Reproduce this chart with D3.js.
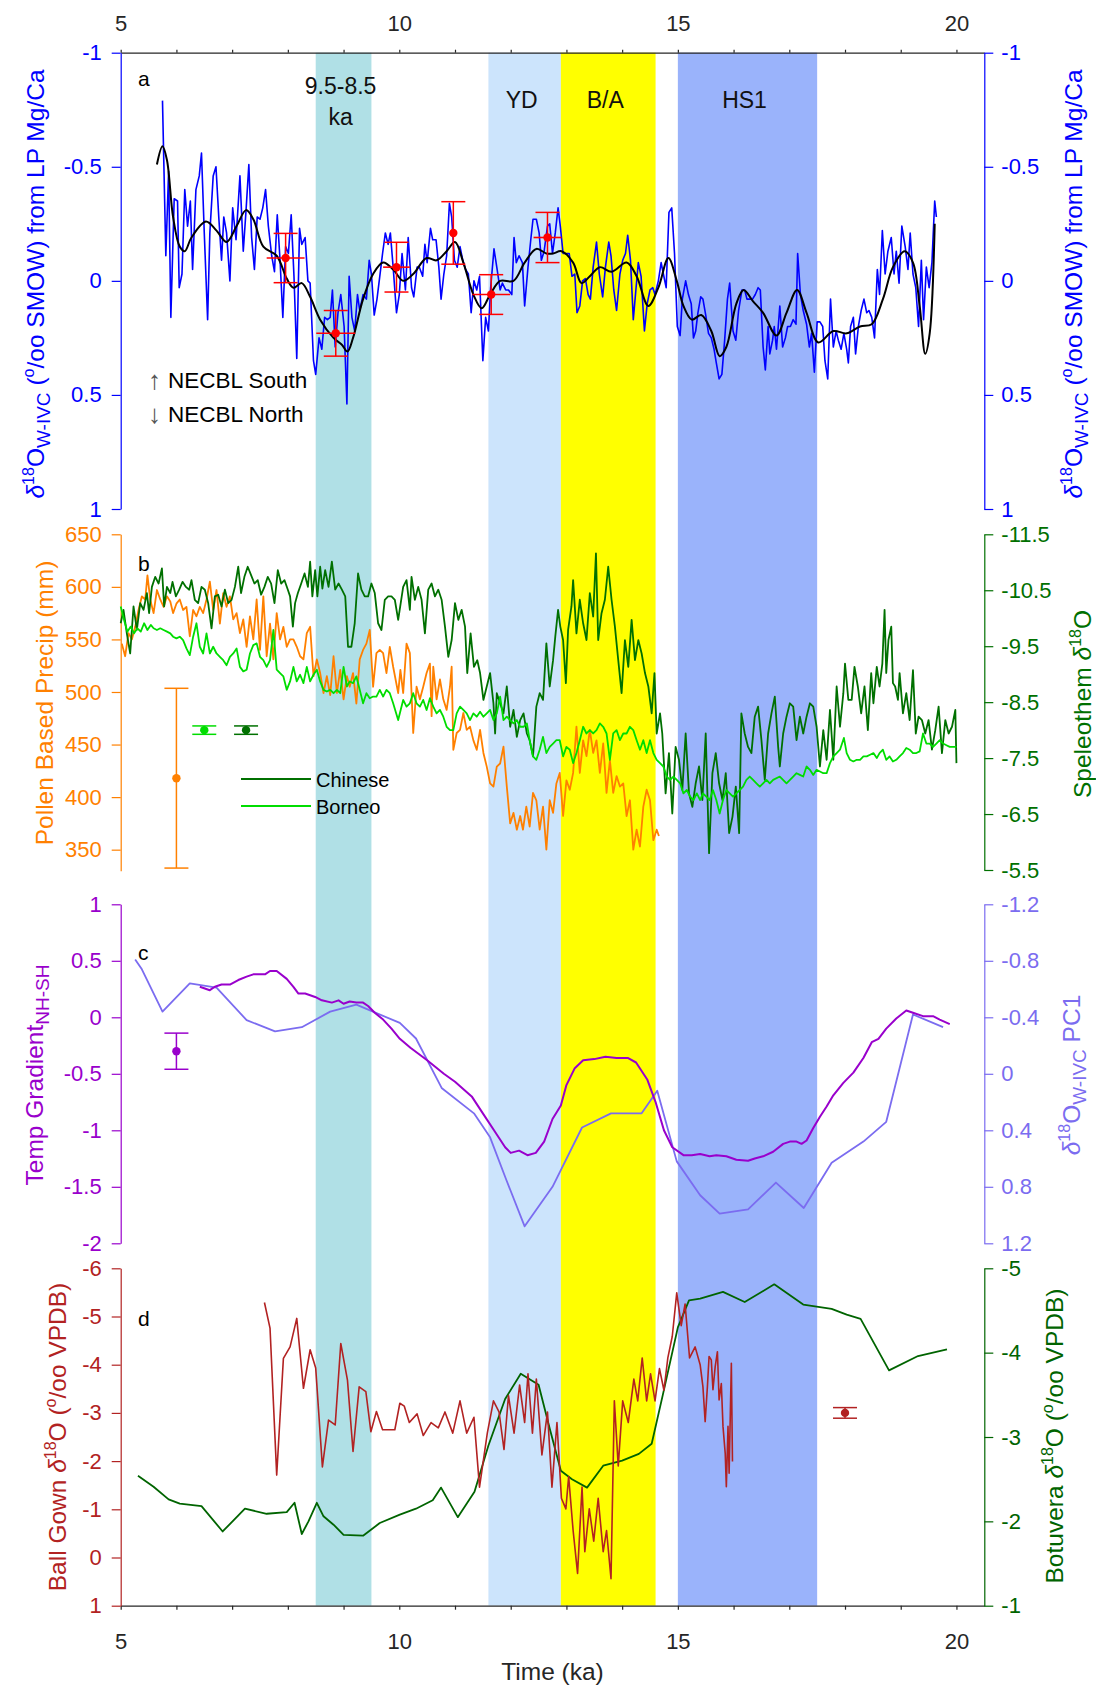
<!DOCTYPE html>
<html>
<head>
<meta charset="utf-8">
<script src="https://cdn.jsdelivr.net/npm/d3@7"></script>
<style>
  body { margin: 0; background: #fff; }
  svg text { font-family: "Liberation Sans", Arial, sans-serif; }
</style>
</head>
<body>
<svg id="chart" width="1096" height="1690"></svg>
<script>
// ---- data (time in ka) ----
const bands = [
  { from: 8.5, to: 9.5, color: '#b0e0e6' },
  { from: 11.6, to: 12.9, color: '#cce4fc' },
  { from: 12.9, to: 14.6, color: '#ffff00' },
  { from: 15.0, to: 17.5, color: '#9ab3fb' }
];

// panel a: d18O W-IVC (blue raw, black smoothed, red dated points)
const wivcRaw = [
  [5.75,-0.79],[5.81,-0.11],[5.86,-0.48],[5.90,0.16],[5.96,-0.36],[6.02,-0.35],[6.05,0.03],[6.10,-0.03],[6.15,-0.40],[6.20,-0.24],
  [6.25,-0.35],[6.29,-0.05],[6.35,-0.40],[6.41,-0.46],[6.45,-0.56],[6.50,-0.21],[6.56,0.17],[6.60,-0.21],[6.66,-0.46],[6.71,-0.50],
  [6.76,-0.28],[6.81,-0.09],[6.85,-0.28],[6.90,-0.21],[6.96,0.00],[7.01,-0.32],[7.07,-0.18],[7.14,-0.46],[7.20,-0.13],[7.25,-0.31],
  [7.30,-0.51],[7.35,-0.19],[7.40,-0.05],[7.45,-0.28],[7.50,-0.27],[7.55,-0.32],[7.60,-0.40],[7.65,-0.24],[7.71,-0.11],[7.76,-0.04],
  [7.81,-0.29],[7.86,-0.09],[7.91,0.16],[7.96,-0.15],[8.01,-0.12],[8.06,-0.29],[8.11,-0.02],[8.16,0.34],[8.21,-0.23],[8.25,-0.16],
  [8.31,-0.19],[8.36,0.00],[8.40,0.01],[8.46,0.35],[8.50,0.41],[8.56,0.25],[8.61,0.30],[8.66,0.16],[8.71,0.17],[8.76,0.16],
  [8.80,0.04],[8.85,0.29],[8.90,0.14],[8.95,0.06],[9.01,0.20],[9.06,0.54],[9.10,-0.02],[9.15,0.16],[9.20,0.22],[9.25,0.06],
  [9.29,0.13],[9.35,0.06],[9.41,0.08],[9.46,-0.09],[9.50,-0.03],[9.55,0.15],[9.60,0.08],[9.65,-0.02],[9.70,-0.12],[9.75,-0.21],
  [9.80,-0.16],[9.84,-0.21],[9.89,-0.06],[9.95,0.14],[10.00,0.06],[10.05,-0.12],[10.11,0.04],[10.16,-0.19],[10.22,0.03],[10.26,0.07],
  [10.32,-0.06],[10.36,-0.06],[10.42,-0.02],[10.46,-0.16],[10.50,-0.08],[10.56,-0.23],[10.60,-0.18],[10.66,-0.18],[10.71,-0.06],[10.75,0.08],
  [10.80,-0.03],[10.85,-0.11],[10.90,-0.34],[10.94,-0.28],[10.99,-0.09],[11.04,-0.06],[11.09,-0.15],[11.14,-0.09],[11.19,-0.05],[11.24,-0.03],
  [11.29,0.14],[11.34,0.00],[11.39,0.04],[11.44,-0.02],[11.50,0.35],[11.55,0.16],[11.60,0.22],[11.64,0.03],[11.70,-0.14],[11.75,-0.06],
  [11.81,0.04],[11.85,0.01],[11.91,0.04],[11.96,0.04],[12.02,0.06],[12.06,-0.19],[12.10,-0.08],[12.15,-0.11],[12.21,-0.08],[12.25,0.11],
  [12.31,-0.06],[12.36,-0.18],[12.40,-0.27],[12.46,-0.27],[12.51,-0.21],[12.55,-0.09],[12.60,-0.13],[12.66,-0.24],[12.70,-0.25],[12.75,-0.12],
  [12.80,-0.21],[12.85,-0.32],[12.89,-0.24],[12.94,-0.12],[13.05,-0.12],[13.10,-0.02],[13.15,-0.03],[13.19,0.14],[13.24,0.11],[13.29,0.00],
  [13.34,-0.01],[13.39,0.06],[13.43,0.08],[13.48,-0.06],[13.54,-0.17],[13.59,-0.03],[13.65,0.07],[13.70,-0.06],[13.76,-0.17],[13.80,-0.11],
  [13.85,0.04],[13.90,0.13],[13.96,-0.03],[14.01,-0.09],[14.06,-0.12],[14.10,-0.20],[14.15,-0.09],[14.20,0.17],[14.25,0.03],[14.29,-0.08],
  [14.34,-0.02],[14.40,0.22],[14.45,0.10],[14.50,0.04],[14.55,0.03],[14.59,0.06],[14.65,0.00],[14.70,-0.08],[14.74,-0.03],[14.79,0.03],
  [14.84,-0.30],[14.89,-0.32],[14.94,-0.12],[14.99,0.20],[15.04,0.24],[15.08,0.08],[15.14,0.00],[15.19,0.06],[15.24,0.10],[15.28,0.25],
  [15.32,0.22],[15.36,0.14],[15.41,0.07],[15.45,0.08],[15.50,0.15],[15.55,0.23],[15.60,0.25],[15.65,0.30],[15.69,0.36],[15.74,0.43],
  [15.79,0.41],[15.84,0.26],[15.89,0.08],[15.93,0.01],[15.99,0.22],[16.04,0.26],[16.09,0.13],[16.15,0.04],[16.20,0.04],[16.24,0.08],
  [16.29,0.08],[16.34,0.08],[16.39,0.06],[16.44,0.03],[16.48,0.04],[16.53,0.29],[16.57,0.39],[16.62,0.20],[16.65,0.32],[16.70,0.26],
  [16.73,0.20],[16.77,0.30],[16.83,0.11],[16.88,0.29],[16.93,0.25],[16.97,0.20],[17.02,0.20],[17.07,0.17],[17.12,0.19],[17.15,-0.12],
  [17.20,0.06],[17.25,0.13],[17.31,0.19],[17.36,0.29],[17.40,0.23],[17.45,0.40],[17.50,0.18],[17.55,0.18],[17.60,0.20],[17.64,0.35],
  [17.69,0.43],[17.74,0.08],[17.79,0.29],[17.84,0.22],[17.88,0.26],[17.93,0.30],[17.98,0.23],[18.03,0.30],[18.06,0.36],[18.10,0.20],
  [18.15,0.16],[18.19,0.32],[18.24,0.20],[18.29,0.13],[18.34,0.08],[18.39,0.14],[18.43,0.13],[18.48,0.16],[18.53,0.25],[18.58,-0.05],
  [18.62,0.06],[18.67,-0.22],[18.72,-0.03],[18.77,-0.13],[18.83,-0.19],[18.88,-0.03],[18.92,-0.13],[18.97,0.01],[19.02,-0.24],[19.08,-0.15],
  [19.13,-0.05],[19.17,-0.21],[19.22,-0.03],[19.27,0.03],[19.32,0.20],[19.37,-0.09],[19.41,0.17],[19.46,-0.06],[19.51,0.03],[19.56,-0.08],
  [19.61,-0.35],[19.64,-0.28]
];
const wivcSmooth = [
  [5.65,-0.51],[5.75,-0.59],[5.83,-0.53],[5.94,-0.28],[6.06,-0.15],[6.15,-0.13],[6.27,-0.19],[6.53,-0.26],[6.72,-0.22],[6.90,-0.17],
  [7.08,-0.24],[7.25,-0.31],[7.38,-0.27],[7.56,-0.15],[7.80,-0.11],[7.98,-0.01],[8.10,0.03],[8.25,0.01],[8.40,0.07],[8.58,0.17],
  [8.82,0.25],[8.97,0.28],[9.07,0.31],[9.17,0.25],[9.35,0.08],[9.53,-0.03],[9.71,-0.08],[9.89,-0.05],[10.07,0.00],[10.25,-0.03],
  [10.49,-0.10],[10.67,-0.09],[10.85,-0.13],[11.00,-0.17],[11.15,-0.08],[11.33,0.06],[11.48,0.12],[11.63,0.06],[11.81,0.00],[12.05,0.00],
  [12.25,-0.08],[12.46,-0.14],[12.64,-0.12],[12.76,-0.12],[12.91,-0.13],[13.12,-0.08],[13.27,0.01],[13.42,-0.02],[13.60,-0.06],[13.81,-0.04],
  [14.08,-0.08],[14.26,-0.02],[14.47,0.11],[14.65,0.03],[14.83,-0.10],[14.98,0.00],[15.10,0.11],[15.25,0.17],[15.42,0.15],[15.60,0.22],
  [15.75,0.33],[15.87,0.29],[16.05,0.10],[16.18,0.04],[16.35,0.09],[16.53,0.14],[16.77,0.24],[16.95,0.14],[17.14,0.04],[17.31,0.14],
  [17.52,0.27],[17.79,0.22],[18.03,0.23],[18.27,0.20],[18.48,0.19],[18.68,0.08],[18.86,-0.06],[19.07,-0.13],[19.22,-0.08],[19.34,0.11],
  [19.44,0.32],[19.52,0.23],[19.61,-0.25]
];
// [time, value, value error, time error]
const wivcDated = [
  [7.96,-0.10,0.108,0.34],[8.86,0.23,0.10,0.35],[9.95,-0.06,0.109,0.24],
  [10.97,-0.21,0.137,0.06],[11.65,0.06,0.087,0.34],[12.66,-0.19,0.11,0.25]
];

// panel b: pollen precipitation (mm) and speleothem d18O
const pollenPrecip = [
  [5.02,546],[5.08,534],[5.14,556],[5.20,550],[5.26,562],[5.32,578],[5.38,591],[5.44,588],[5.48,611],[5.53,588],
  [5.59,575],[5.65,597],[5.71,588],[5.77,581],[5.83,591],[5.89,586],[5.94,575],[6.00,584],[6.06,588],[6.12,578],
  [6.18,581],[6.24,553],[6.30,578],[6.36,572],[6.42,581],[6.48,575],[6.54,588],[6.60,605],[6.66,578],[6.72,597],
  [6.78,565],[6.84,594],[6.90,581],[6.96,591],[7.02,569],[7.08,575],[7.14,556],[7.20,569],[7.26,543],[7.32,572],
  [7.38,550],[7.44,588],[7.50,540],[7.56,591],[7.62,534],[7.68,565],[7.74,531],[7.80,575],[7.86,550],[7.92,562],
  [7.98,543],[8.04,550],[8.10,550],[8.16,543],[8.22,534],[8.28,531],[8.34,556],[8.40,562],[8.46,515],[8.52,531],
  [8.58,518],[8.64,499],[8.70,515],[8.76,497],[8.82,534],[8.88,499],[8.94,521],[9.00,493],[9.06,515],[9.11,505],
  [9.17,518],[9.23,489],[9.29,531],[9.35,540],[9.41,546],[9.47,559],[9.53,505],[9.59,537],[9.65,540],[9.71,537],
  [9.77,518],[9.83,543],[9.89,524],[9.98,499],[10.02,521],[10.07,499],[10.13,546],[10.19,537],[10.25,461],[10.31,505],
  [10.37,493],[10.43,505],[10.49,518],[10.55,527],[10.58,477],[10.61,524],[10.67,493],[10.73,512],[10.79,493],[10.85,483],
  [10.91,505],[10.94,524],[10.97,445],[11.03,461],[11.09,464],[11.15,480],[11.21,464],[11.27,467],[11.33,454],[11.39,445],
  [11.45,464],[11.51,442],[11.57,429],[11.63,413],[11.69,410],[11.75,429],[11.81,432],[11.87,448],[11.93,410],[11.99,375],
  [12.05,385],[12.11,369],[12.17,382],[12.22,369],[12.28,391],[12.34,372],[12.40,404],[12.46,397],[12.52,369],[12.58,391],
  [12.64,350],[12.70,397],[12.76,385],[12.82,413],[12.88,423],[12.94,382],[13.00,416],[13.06,407],[13.12,423],[13.18,467],
  [13.24,423],[13.30,454],[13.36,439],[13.42,464],[13.48,442],[13.54,454],[13.60,423],[13.66,451],[13.72,404],[13.78,435],
  [13.84,404],[13.90,420],[13.96,410],[14.02,413],[14.08,382],[14.14,397],[14.20,350],[14.26,369],[14.32,353],[14.38,391],
  [14.44,407],[14.50,397],[14.56,359],[14.62,369],[14.66,363]
];
const chineseSpeleo = [
  [5.00,-9.91],[5.05,-10.15],[5.11,-9.73],[5.17,-9.37],[5.23,-10.21],[5.29,-9.79],[5.35,-10.27],[5.41,-10.15],[5.47,-10.45],[5.51,-10.09],
  [5.56,-10.56],[5.62,-10.74],[5.68,-10.62],[5.74,-10.89],[5.78,-10.21],[5.83,-10.56],[5.89,-10.45],[5.93,-10.65],[5.99,-10.39],[6.05,-10.51],
  [6.11,-10.65],[6.17,-10.56],[6.23,-10.51],[6.27,-10.68],[6.33,-10.33],[6.39,-10.27],[6.45,-10.56],[6.51,-10.51],[6.57,-10.27],[6.63,-9.82],
  [6.69,-10.39],[6.75,-10.42],[6.81,-10.21],[6.87,-10.51],[6.93,-10.27],[6.99,-10.33],[7.05,-10.56],[7.11,-10.92],[7.16,-10.45],[7.22,-10.74],
  [7.28,-10.92],[7.34,-10.77],[7.40,-10.62],[7.46,-10.68],[7.52,-10.42],[7.58,-10.56],[7.64,-10.74],[7.70,-10.62],[7.76,-10.27],[7.82,-10.86],
  [7.88,-10.62],[7.94,-10.68],[8.00,-10.51],[8.04,-10.39],[8.09,-9.85],[8.13,-10.27],[8.18,-10.45],[8.24,-10.62],[8.30,-10.80],[8.36,-10.56],
  [8.40,-11.01],[8.44,-10.39],[8.49,-10.86],[8.53,-10.39],[8.58,-10.92],[8.62,-10.53],[8.67,-10.86],[8.73,-10.56],[8.79,-11.01],[8.85,-10.51],
  [8.91,-10.62],[8.97,-10.51],[9.03,-10.39],[9.08,-9.49],[9.14,-9.49],[9.20,-9.91],[9.26,-10.80],[9.32,-10.51],[9.38,-10.39],[9.44,-10.39],
  [9.50,-10.62],[9.56,-10.45],[9.62,-9.91],[9.68,-9.79],[9.74,-10.33],[9.80,-10.39],[9.86,-10.39],[9.92,-10.33],[9.98,-9.97],[10.07,-10.56],
  [10.13,-10.68],[10.19,-10.15],[10.22,-10.74],[10.28,-10.33],[10.34,-10.56],[10.40,-10.33],[10.46,-9.73],[10.52,-10.51],[10.58,-10.62],[10.64,-10.39],
  [10.70,-10.51],[10.76,-10.33],[10.82,-9.85],[10.88,-9.31],[10.94,-9.61],[11.00,-10.27],[11.06,-9.97],[11.12,-10.15],[11.18,-9.85],[11.22,-9.02],
  [11.28,-9.73],[11.34,-9.13],[11.40,-9.25],[11.45,-9.02],[11.51,-8.54],[11.57,-8.78],[11.63,-9.02],[11.69,-8.48],[11.72,-7.94],[11.75,-8.66],
  [11.81,-8.48],[11.87,-8.30],[11.93,-8.78],[11.99,-8.06],[12.05,-8.36],[12.11,-7.88],[12.17,-8.18],[12.23,-8.30],[12.29,-7.94],[12.34,-7.82],
  [12.40,-7.53],[12.46,-8.42],[12.52,-8.66],[12.58,-8.54],[12.64,-9.55],[12.70,-8.78],[12.76,-9.25],[12.80,-9.67],[12.85,-10.15],[12.89,-9.85],
  [12.94,-9.61],[12.99,-8.84],[13.03,-9.79],[13.09,-10.21],[13.12,-10.68],[13.18,-9.73],[13.24,-10.33],[13.30,-9.91],[13.36,-9.61],[13.42,-10.45],
  [13.48,-10.03],[13.53,-11.16],[13.57,-9.61],[13.63,-10.09],[13.69,-10.33],[13.75,-10.92],[13.81,-10.33],[13.87,-9.85],[13.93,-9.25],[13.99,-8.66],
  [14.05,-9.61],[14.11,-9.13],[14.17,-9.97],[14.23,-9.25],[14.29,-9.61],[14.35,-9.37],[14.41,-9.02],[14.47,-8.78],[14.53,-8.30],[14.58,-9.02],
  [14.62,-7.94],[14.68,-8.30],[14.72,-7.94],[14.78,-6.87],[14.84,-7.59],[14.90,-6.51],[14.96,-7.70],[15.02,-7.47],[15.08,-6.93],[15.14,-7.94],
  [15.20,-6.87],[15.26,-6.63],[15.32,-7.05],[15.38,-7.35],[15.44,-6.75],[15.50,-7.94],[15.56,-5.80],[15.62,-7.23],[15.68,-7.59],[15.74,-7.05],
  [15.80,-6.75],[15.86,-7.23],[15.92,-6.16],[15.98,-6.45],[16.04,-6.99],[16.10,-6.16],[16.14,-8.30],[16.20,-7.94],[16.26,-7.70],[16.32,-7.59],
  [16.38,-8.24],[16.44,-8.42],[16.50,-7.82],[16.56,-7.11],[16.62,-7.94],[16.68,-8.30],[16.74,-8.60],[16.80,-7.70],[16.83,-7.35],[16.89,-7.94],
  [16.95,-8.24],[17.01,-8.48],[17.07,-8.42],[17.13,-7.82],[17.19,-8.24],[17.25,-7.94],[17.31,-8.24],[17.37,-8.48],[17.43,-8.42],[17.49,-8.06],
  [17.55,-7.35],[17.61,-8.00],[17.67,-7.47],[17.73,-8.36],[17.79,-7.47],[17.85,-8.78],[17.91,-8.06],[17.97,-8.66],[18.00,-9.19],[18.06,-8.54],
  [18.12,-8.54],[18.17,-9.13],[18.23,-8.78],[18.29,-8.30],[18.35,-8.78],[18.41,-8.00],[18.47,-9.02],[18.51,-8.48],[18.57,-9.13],[18.62,-8.78],
  [18.67,-9.19],[18.71,-10.15],[18.74,-9.02],[18.78,-9.61],[18.83,-9.85],[18.86,-8.84],[18.90,-8.78],[18.95,-8.54],[18.98,-9.02],[19.04,-8.30],
  [19.10,-8.66],[19.16,-8.18],[19.22,-9.07],[19.27,-7.94],[19.32,-8.24],[19.38,-8.18],[19.44,-7.94],[19.50,-8.18],[19.56,-7.65],[19.62,-8.00],
  [19.68,-8.42],[19.74,-7.59],[19.80,-8.18],[19.86,-7.94],[19.92,-8.06],[19.98,-8.36],[20.00,-7.41]
];
const borneoSpeleo = [
  [5.00,-10.21],[5.06,-9.97],[5.12,-9.76],[5.18,-9.85],[5.24,-9.73],[5.30,-9.82],[5.36,-9.76],[5.42,-9.91],[5.48,-9.79],[5.54,-9.88],
  [5.59,-9.82],[5.65,-9.79],[5.71,-9.82],[5.77,-9.79],[5.83,-9.76],[5.89,-9.73],[5.94,-9.67],[6.00,-9.64],[6.06,-9.67],[6.12,-9.61],
  [6.18,-9.46],[6.24,-9.34],[6.30,-9.67],[6.36,-9.91],[6.42,-9.49],[6.48,-9.37],[6.54,-9.73],[6.60,-9.37],[6.66,-9.49],[6.72,-9.37],
  [6.78,-9.31],[6.84,-9.25],[6.90,-9.16],[6.96,-9.31],[7.02,-9.37],[7.08,-9.46],[7.14,-9.13],[7.20,-9.05],[7.26,-9.08],[7.32,-9.37],
  [7.38,-9.52],[7.44,-9.55],[7.50,-9.31],[7.56,-9.25],[7.62,-9.13],[7.68,-9.25],[7.74,-9.79],[7.80,-9.08],[7.86,-9.02],[7.92,-8.96],
  [7.98,-8.72],[8.04,-8.87],[8.10,-9.13],[8.16,-8.87],[8.22,-8.99],[8.28,-8.84],[8.34,-9.13],[8.40,-8.87],[8.46,-8.99],[8.52,-9.08],
  [8.58,-8.87],[8.64,-8.72],[8.70,-8.69],[8.76,-8.72],[8.82,-8.66],[8.88,-8.72],[8.94,-8.66],[9.00,-9.13],[9.06,-8.78],[9.11,-8.87],
  [9.17,-8.84],[9.23,-8.96],[9.29,-8.72],[9.35,-8.48],[9.41,-8.66],[9.47,-8.57],[9.53,-8.60],[9.59,-8.60],[9.65,-8.72],[9.71,-8.60],
  [9.77,-8.72],[9.83,-8.66],[9.89,-8.48],[9.98,-8.18],[10.07,-8.54],[10.13,-8.42],[10.19,-8.48],[10.25,-8.66],[10.31,-8.48],[10.37,-8.42],
  [10.43,-8.54],[10.49,-8.36],[10.55,-8.57],[10.61,-8.42],[10.67,-8.30],[10.73,-8.36],[10.79,-8.24],[10.85,-8.06],[10.91,-8.00],[10.97,-8.00],
  [11.03,-8.30],[11.09,-8.42],[11.15,-8.36],[11.21,-8.30],[11.27,-8.18],[11.33,-8.30],[11.39,-8.24],[11.45,-8.33],[11.51,-8.24],[11.57,-8.30],
  [11.63,-8.36],[11.69,-8.18],[11.75,-8.30],[11.81,-8.60],[11.87,-8.18],[11.93,-8.24],[11.99,-8.18],[12.05,-8.12],[12.11,-8.18],[12.17,-8.06],
  [12.23,-8.06],[12.29,-8.12],[12.34,-7.82],[12.40,-7.53],[12.46,-7.47],[12.52,-7.65],[12.58,-7.88],[12.64,-7.59],[12.70,-7.70],[12.76,-7.76],
  [12.82,-7.82],[12.88,-7.82],[12.94,-7.53],[13.00,-7.70],[13.06,-7.65],[13.12,-7.41],[13.18,-7.59],[13.24,-7.82],[13.30,-8.06],[13.36,-7.94],
  [13.42,-8.00],[13.48,-7.94],[13.54,-8.00],[13.60,-8.12],[13.66,-8.06],[13.72,-7.94],[13.78,-7.47],[13.84,-7.94],[13.90,-8.00],[13.96,-7.82],
  [14.02,-7.94],[14.08,-7.94],[14.14,-8.06],[14.20,-8.00],[14.26,-7.82],[14.32,-7.65],[14.38,-7.82],[14.44,-7.59],[14.50,-7.82],[14.56,-7.59],
  [14.62,-7.47],[14.68,-7.41],[14.74,-7.35],[14.80,-7.17],[14.86,-7.11],[14.92,-7.17],[14.98,-7.11],[15.04,-7.05],[15.10,-6.87],[15.16,-6.93],
  [15.22,-6.81],[15.28,-6.75],[15.34,-6.87],[15.40,-6.75],[15.45,-6.87],[15.51,-6.81],[15.57,-6.75],[15.63,-6.93],[15.69,-6.75],[15.75,-6.51],
  [15.81,-6.75],[15.87,-6.93],[15.93,-6.87],[15.99,-6.81],[16.05,-6.87],[16.11,-6.93],[16.17,-6.99],[16.23,-7.11],[16.29,-7.17],[16.35,-7.11],
  [16.41,-7.05],[16.47,-6.99],[16.53,-7.05],[16.59,-7.11],[16.65,-7.05],[16.71,-7.11],[16.83,-7.17],[16.95,-7.05],[17.07,-7.17],[17.13,-7.23],
  [17.19,-7.20],[17.25,-7.17],[17.31,-7.35],[17.37,-7.29],[17.43,-7.20],[17.49,-7.29],[17.55,-7.26],[17.61,-7.23],[17.67,-7.23],[17.73,-7.41],
  [17.79,-7.53],[17.85,-7.59],[17.91,-7.65],[17.98,-7.86],[18.03,-7.59],[18.09,-7.47],[18.15,-7.44],[18.21,-7.47],[18.27,-7.47],[18.33,-7.53],
  [18.39,-7.53],[18.45,-7.56],[18.51,-7.59],[18.57,-7.50],[18.62,-7.59],[18.68,-7.65],[18.74,-7.47],[18.80,-7.53],[18.86,-7.44],[18.92,-7.47],
  [18.98,-7.53],[19.04,-7.59],[19.10,-7.68],[19.16,-7.65],[19.22,-7.59],[19.28,-7.59],[19.34,-7.62],[19.40,-7.94],[19.46,-7.76],[19.52,-7.76],
  [19.58,-7.70],[19.64,-7.76],[19.70,-7.82],[19.76,-7.76],[19.82,-7.73],[19.88,-7.70],[19.94,-7.70],[20.00,-7.70]
];
// [time, value, error]
const pollenErr = [6.0, 418, 85.5];
const borneoErr = [6.5, -8.0, 0.075];
const chineseErr = [7.25, -8.0, 0.075];

// panel c: temp gradient NH-SH and d18O W-IVC PC1
const tempGradient = [
  [6.42,0.27],[6.60,0.24],[6.69,0.27],[6.81,0.29],[6.96,0.29],[7.11,0.33],[7.26,0.36],[7.38,0.38],[7.59,0.38],[7.68,0.41],
  [7.80,0.41],[7.98,0.34],[8.10,0.27],[8.19,0.21],[8.31,0.21],[8.49,0.18],[8.61,0.15],[8.79,0.13],[8.91,0.15],[9.00,0.12],
  [9.11,0.14],[9.23,0.13],[9.35,0.13],[9.44,0.10],[9.56,0.04],[9.71,-0.02],[9.86,-0.10],[10.01,-0.19],[10.20,-0.27],[10.50,-0.38],
  [10.80,-0.50],[11.00,-0.57],[11.30,-0.70],[11.50,-0.85],[11.70,-1.00],[11.90,-1.15],[12.00,-1.20],[12.15,-1.18],[12.30,-1.22],[12.45,-1.20],
  [12.60,-1.10],[12.75,-0.90],[12.90,-0.78],[13.00,-0.60],[13.15,-0.45],[13.30,-0.38],[13.50,-0.37],[13.70,-0.35],[13.90,-0.36],[14.10,-0.36],
  [14.25,-0.40],[14.45,-0.55],[14.60,-0.75],[14.75,-1.00],[14.90,-1.15],[15.10,-1.22],[15.25,-1.22],[15.40,-1.21],[15.57,-1.23],[15.69,-1.22],
  [15.87,-1.23],[16.05,-1.26],[16.26,-1.27],[16.38,-1.25],[16.53,-1.23],[16.71,-1.19],[16.89,-1.12],[17.01,-1.10],[17.13,-1.10],[17.22,-1.12],
  [17.31,-1.09],[17.43,-0.98],[17.55,-0.88],[17.67,-0.79],[17.79,-0.69],[17.97,-0.58],[18.15,-0.49],[18.33,-0.36],[18.48,-0.22],[18.60,-0.19],
  [18.74,-0.10],[18.92,-0.01],[19.10,0.06],[19.22,0.04],[19.40,0.01],[19.58,0.01],[19.70,-0.02],[19.88,-0.06]
];
const wivcPC1 = [
  [5.26,-0.81],[5.38,-0.74],[5.75,-0.44],[6.24,-0.64],[6.72,-0.61],[7.26,-0.38],[7.77,-0.30],[8.25,-0.33],[8.76,-0.44],[9.23,-0.49],
  [9.41,-0.46],[10.01,-0.36],[10.30,-0.25],[10.76,0.10],[11.34,0.28],[11.63,0.45],[11.92,0.75],[12.25,1.08],[12.75,0.80],[13.28,0.38],
  [13.80,0.28],[14.35,0.28],[14.63,0.12],[14.98,0.62],[15.40,0.86],[15.75,0.99],[16.26,0.96],[16.76,0.77],[17.26,0.95],[17.76,0.63],
  [18.33,0.48],[18.74,0.34],[19.22,-0.42],[19.76,-0.33]
];
const tempErr = [6.0, -0.3, 0.16];

// panel d: Ball Gown and Botuvera d18O
const ballGown = [
  [7.58,-5.29],[7.68,-4.76],[7.80,-1.71],[7.92,-4.13],[8.04,-4.37],[8.16,-4.96],[8.28,-3.51],[8.40,-4.31],[8.50,-3.93],[8.62,-1.88],
  [8.73,-2.85],[8.85,-2.75],[8.95,-4.44],[9.07,-3.68],[9.17,-2.20],[9.28,-3.54],[9.40,-3.44],[9.49,-2.61],[9.59,-3.03],[9.70,-2.65],
  [9.80,-2.65],[9.92,-2.65],[10.01,-3.20],[10.09,-3.14],[10.18,-2.80],[10.32,-2.98],[10.43,-2.53],[10.57,-2.80],[10.70,-2.69],[10.82,-3.02],
  [10.96,-2.58],[11.09,-3.25],[11.21,-2.58],[11.34,-2.91],[11.44,-1.46],[11.58,-2.58],[11.69,-3.25],[11.79,-3.02],[11.88,-2.24],[11.96,-3.36],
  [12.06,-2.58],[12.16,-3.58],[12.25,-2.80],[12.31,-3.81],[12.39,-2.58],[12.46,-3.70],[12.56,-2.13],[12.66,-3.02],[12.74,-1.46],[12.83,-2.80],
  [12.91,-1.23],[12.99,-1.01],[13.04,-1.68],[13.12,-0.56],[13.20,0.33],[13.28,-1.46],[13.33,-0.12],[13.41,-1.01],[13.49,-0.34],[13.57,-1.23],
  [13.66,-0.12],[13.72,-0.56],[13.80,0.44],[13.86,-3.25],[13.93,-1.90],[14.01,-3.25],[14.11,-2.80],[14.21,-3.70],[14.28,-3.25],[14.36,-4.14],
  [14.44,-3.25],[14.51,-3.81],[14.59,-3.25],[14.67,-3.92],[14.75,-3.47],[14.82,-4.14],[14.90,-4.59],[14.98,-5.49],[15.06,-4.81],[15.13,-5.26],
  [15.21,-4.14],[15.31,-4.37],[15.40,-4.00],[15.45,-3.54],[15.49,-2.82],[15.53,-3.54],[15.56,-4.17],[15.60,-4.10],[15.63,-3.48],[15.67,-3.96],
  [15.71,-4.27],[15.74,-3.27],[15.78,-3.61],[15.81,-2.72],[15.85,-2.16],[15.87,-1.47],[15.90,-2.72],[15.92,-1.75],[15.96,-4.03],[15.98,-1.99]
];
const botuvera = [
  [5.31,-2.54],[5.59,-2.41],[5.86,-2.26],[6.06,-2.21],[6.45,-2.18],[6.83,-1.88],[7.23,-2.15],[7.62,-2.09],[7.98,-2.11],[8.12,-2.22],
  [8.25,-1.85],[8.37,-2.00],[8.52,-2.22],[8.64,-2.06],[8.82,-1.96],[9.00,-1.84],[9.35,-1.83],[9.65,-1.98],[10.01,-2.08],[10.30,-2.15],
  [10.60,-2.25],[10.75,-2.40],[11.05,-2.05],[11.35,-2.35],[11.60,-2.90],[11.90,-3.45],[12.18,-3.75],[12.50,-3.62],[12.70,-3.10],[12.90,-2.60],
  [13.10,-2.50],[13.37,-2.40],[13.66,-2.66],[14.00,-2.72],[14.30,-2.80],[14.53,-2.92],[14.73,-3.50],[15.00,-4.30],[15.20,-4.62],[15.40,-4.64],
  [15.81,-4.72],[16.20,-4.60],[16.73,-4.81],[17.25,-4.57],[17.76,-4.52],[18.03,-4.45],[18.28,-4.40],[18.79,-3.79],[19.31,-3.96],[19.83,-4.04]
];
const ballGownErr = [18.0, -3.0, 0.11];

// ---- layout ----
const svg = d3.select('#chart');
const X0 = 120.7, X1 = 984.3, TOP = 52.7, BOTTOM = 1605.7;
const x = d3.scaleLinear([5, 20.5], [X0, X1]);

const yA = d3.scaleLinear([-1, 1], [52.7, 509]);
const yBL = d3.scaleLinear([650, 330], [534.3, 870.7]);
const yBR = d3.scaleLinear([-11.5, -5.5], [534.3, 870]);
const yCL = d3.scaleLinear([1, -2], [904.3, 1243.3]);
const yCR = d3.scaleLinear([-1.2, 1.2], [904.3, 1243.3]);
const yDL = d3.scaleLinear([-6, 1], [1268.3, 1605.7]);
const yDR = d3.scaleLinear([-5, -1], [1268.3, 1605.7]);

// shaded intervals
svg.append('g').selectAll('rect').data(bands).join('rect')
  .attr('x', d => x(d.from)).attr('width', d => x(d.to) - x(d.from))
  .attr('y', TOP).attr('height', BOTTOM - TOP)
  .attr('fill', d => d.color);

// ---- axes ----
function styleAxis(g, color) {
  g.attr('font-size', null).attr('font-family', null);
  g.select('.domain').attr('stroke', color).attr('stroke-width', 1.2);
  g.selectAll('.tick line').attr('stroke', color).attr('stroke-width', 1.2);
  g.selectAll('.tick text').attr('fill', color).style('font-size', '22px');
}

function yAxis(scale, side, color, ticks) {
  const ax = (side === 'left' ? d3.axisLeft(scale) : d3.axisRight(scale))
    .tickValues(ticks).tickSize(9).tickSizeOuter(0)
    .tickPadding(side === 'left' ? 10 : 8)
    .tickFormat(d => String(d));
  const g = svg.append('g')
    .attr('transform', `translate(${side === 'left' ? X0 : X1},0)`)
    .call(ax);
  styleAxis(g, color);
}

const xTicks = d3.range(5, 21);
const xFmt = d => (d % 5 === 0 ? String(d) : '');
const gTop = svg.append('g').attr('transform', `translate(0,${TOP})`)
  .call(d3.axisTop(x).tickValues(xTicks).tickSize(3).tickSizeOuter(0).tickPadding(19).tickFormat(xFmt));
styleAxis(gTop, '#262626');
const gBot = svg.append('g').attr('transform', `translate(0,${BOTTOM})`)
  .call(d3.axisBottom(x).tickValues(xTicks).tickSize(4).tickSizeOuter(0).tickPadding(24).tickFormat(xFmt));
styleAxis(gBot, '#262626');

const BLUE = '#0000ff', ORANGE = '#ff8000', DKGREEN = '#007000', LTGREEN = '#00dd00';
const PURPLE = '#9900cc', LAVENDER = '#7b6cf0', BROWN = '#b22222', BOTGREEN = '#006400';

yAxis(yA, 'left', BLUE, [-1, -0.5, 0, 0.5, 1]);
yAxis(yA, 'right', BLUE, [-1, -0.5, 0, 0.5, 1]);
yAxis(yBL, 'left', ORANGE, [650, 600, 550, 500, 450, 400, 350]);
yAxis(yBR, 'right', DKGREEN, [-11.5, -10.5, -9.5, -8.5, -7.5, -6.5, -5.5]);
yAxis(yCL, 'left', PURPLE, [1, 0.5, 0, -0.5, -1, -1.5, -2]);
yAxis(yCR, 'right', LAVENDER, [-1.2, -0.8, -0.4, 0, 0.4, 0.8, 1.2]);
yAxis(yDL, 'left', BROWN, [-6, -5, -4, -3, -2, -1, 0, 1]);
yAxis(yDR, 'right', BOTGREEN, [-5, -4, -3, -2, -1]);

// ---- axis titles (rotated, with super/subscripts) ----
function title(px, py, color, parts) {
  const t = svg.append('text')
    .attr('transform', `translate(${px},${py}) rotate(-90)`)
    .attr('text-anchor', 'middle').attr('fill', color)
    .style('font-size', '24.5px');
  parts.forEach(p => {
    const s = t.append('tspan').text(p.t);
    if (p.sup) s.style('font-size', '16px').attr('baseline-shift', '10');
    if (p.sub) s.style('font-size', '19px').attr('baseline-shift', '-6');
    if (p.it) s.style('font-style', 'italic');
  });
}
const wivcParts = [
  { t: 'δ', it: true }, { t: '18', sup: true }, { t: 'O' }, { t: 'W-IVC', sub: true },
  { t: ' (' }, { t: 'o', sup: true }, { t: '/oo SMOW) from LP Mg/Ca' }
];
title(44, 284, BLUE, wivcParts);
title(1082, 284, BLUE, wivcParts);
title(52.5, 703, ORANGE, [{ t: 'Pollen Based Precip (mm)' }]);
title(1090.5, 704, DKGREEN, [{ t: 'Speleothem ' }, { t: 'δ', it: true }, { t: '18', sup: true }, { t: 'O' }]);
title(42.5, 1075, PURPLE, [{ t: 'Temp Gradient' }, { t: 'NH-SH', sub: true }]);
title(1079.5, 1075, LAVENDER, [{ t: 'δ', it: true }, { t: '18', sup: true }, { t: 'O' }, { t: 'W-IVC', sub: true }, { t: ' PC1' }]);
title(65.5, 1437, BROWN, [{ t: 'Ball Gown ' }, { t: 'δ', it: true }, { t: '18', sup: true }, { t: 'O (' }, { t: 'o', sup: true }, { t: '/oo VPDB)' }]);
title(1062.5, 1436, BOTGREEN, [{ t: 'Botuvera ' }, { t: 'δ', it: true }, { t: '18', sup: true }, { t: 'O (' }, { t: 'o', sup: true }, { t: '/oo VPDB)' }]);

svg.append('text').attr('x', (X0 + X1) / 2).attr('y', 1680)
  .attr('text-anchor', 'middle').attr('fill', '#262626').style('font-size', '24.5px')
  .text('Time (ka)');

// ---- series ----
function drawLine(data, y, color, width, curve) {
  svg.append('path').datum(data)
    .attr('fill', 'none').attr('stroke', color).attr('stroke-width', width)
    .attr('stroke-linejoin', 'round')
    .attr('d', d3.line().x(d => x(d[0])).y(d => y(d[1])).curve(curve || d3.curveLinear));
}

function errBar(t, v, e, y, color) {
  const g = svg.append('g').attr('stroke', color).attr('stroke-width', 1.5);
  const cx = x(t);
  g.append('line').attr('x1', cx).attr('x2', cx).attr('y1', y(v - e)).attr('y2', y(v + e));
  g.append('line').attr('x1', cx - 12).attr('x2', cx + 12).attr('y1', y(v - e)).attr('y2', y(v - e));
  g.append('line').attr('x1', cx - 12).attr('x2', cx + 12).attr('y1', y(v + e)).attr('y2', y(v + e));
  svg.append('circle').attr('cx', cx).attr('cy', y(v)).attr('r', 4.2).attr('fill', color);
}

// panel a
drawLine(wivcRaw, yA, BLUE, 1.6);
drawLine(wivcSmooth, yA, '#000', 2, d3.curveCatmullRom);
wivcDated.forEach(d => {
  svg.append('line').attr('stroke', '#ff0000').attr('stroke-width', 1.6)
    .attr('x1', x(d[0] - d[3])).attr('x2', x(d[0] + d[3]))
    .attr('y1', yA(d[1])).attr('y2', yA(d[1]));
  errBar(d[0], d[1], d[2], yA, '#ff0000');
});

// panel b
drawLine(pollenPrecip, yBL, ORANGE, 1.8);
drawLine(chineseSpeleo, yBR, DKGREEN, 1.8);
drawLine(borneoSpeleo, yBR, LTGREEN, 1.8);
errBar(pollenErr[0], pollenErr[1], pollenErr[2], yBL, ORANGE);
errBar(borneoErr[0], borneoErr[1], borneoErr[2], yBR, LTGREEN);
errBar(chineseErr[0], chineseErr[1], chineseErr[2], yBR, DKGREEN);

const legend = [
  { name: 'Chinese', color: DKGREEN, y: 779 },
  { name: 'Borneo', color: LTGREEN, y: 806 }
];
legend.forEach(l => {
  svg.append('line').attr('x1', 241).attr('x2', 311).attr('y1', l.y).attr('y2', l.y)
    .attr('stroke', l.color).attr('stroke-width', 1.8);
  svg.append('text').attr('x', 316).attr('y', l.y + 8).attr('fill', '#000')
    .style('font-size', '20px').text(l.name);
});

// panel c
drawLine(wivcPC1, yCR, LAVENDER, 1.8);
drawLine(tempGradient, yCL, PURPLE, 2);
errBar(tempErr[0], tempErr[1], tempErr[2], yCL, PURPLE);

// panel d
drawLine(botuvera, yDR, BOTGREEN, 1.8);
drawLine(ballGown, yDL, BROWN, 1.6);
errBar(ballGownErr[0], ballGownErr[1], ballGownErr[2], yDL, BROWN);

// ---- annotations ----
const panelLabels = [['a', 86], ['b', 571], ['c', 960], ['d', 1326]];
panelLabels.forEach(p => {
  svg.append('text').attr('x', 138).attr('y', p[1]).attr('fill', '#000')
    .style('font-size', '21px').text(p[0]);
});

const bandLabels = [
  { text: '9.5-8.5', t: 9.0, y: 94 },
  { text: 'ka', t: 9.0, y: 125 },
  { text: 'YD', t: 12.25, y: 108 },
  { text: 'B/A', t: 13.75, y: 108 },
  { text: 'HS1', t: 16.25, y: 108 }
];
bandLabels.forEach(b => {
  svg.append('text').attr('x', x(b.t) - 3).attr('y', b.y).attr('text-anchor', 'middle')
    .attr('fill', '#111').style('font-size', '23px').text(b.text);
});

[['↑', 'NECBL South', 388], ['↓', 'NECBL North', 422]].forEach(a => {
  svg.append('text').attr('x', 148).attr('y', a[2] + 1).attr('fill', '#555')
    .style('font-size', '26px').text(a[0]);
  svg.append('text').attr('x', 168).attr('y', a[2]).attr('fill', '#000')
    .style('font-size', '22.5px').text(a[1]);
});
</script>
</body>
</html>
